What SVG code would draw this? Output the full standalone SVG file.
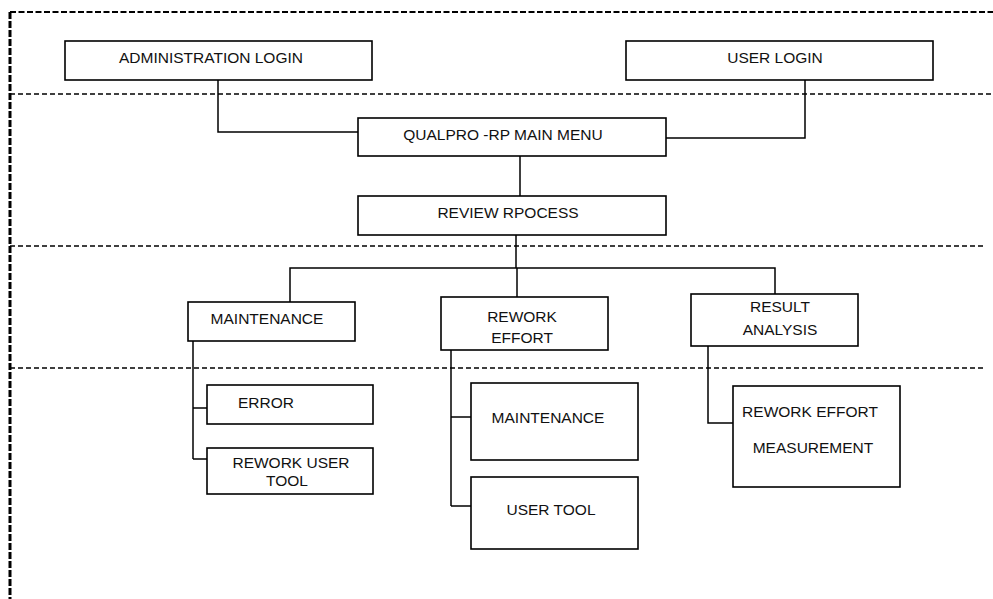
<svg xmlns="http://www.w3.org/2000/svg" width="993" height="599" viewBox="0 0 993 599">
<style>
.box{fill:#fff;stroke:#000;stroke-width:1.6}
.t{font-family:"Liberation Sans",Arial,sans-serif;font-size:15.5px;fill:#111;text-anchor:middle}
.c{fill:none;stroke:#000;stroke-width:1.5}
.d{fill:none;stroke:#000;stroke-width:1.3;stroke-dasharray:5 3}
</style>
<rect width="993" height="599" fill="#fff"/>
<g id="frame">
<line x1="10" y1="12" x2="993" y2="12" stroke="#000" stroke-width="1.8" stroke-dasharray="6 2.5"/>
<line x1="10" y1="12" x2="10" y2="599" stroke="#000" stroke-width="3" stroke-dasharray="7 2"/>
<line class="d" x1="10" y1="94" x2="993" y2="94"/>
<line class="d" x1="10" y1="246" x2="986" y2="246"/>
<line class="d" x1="10" y1="368" x2="986" y2="368"/>
</g>
<g id="connectors">
<polyline class="c" points="218,80 218,132 358,132"/>
<polyline class="c" points="805,80 805,138 666,138"/>
<line class="c" x1="520" y1="156" x2="520" y2="196"/>
<line class="c" x1="516" y1="235" x2="516" y2="268"/>
<polyline class="c" points="290,302 290,268 775,268 775,294"/>
<line class="c" x1="517" y1="268" x2="517" y2="297"/>
<line class="c" x1="193" y1="341" x2="193" y2="459"/>
<line class="c" x1="193" y1="408" x2="207" y2="408"/>
<line class="c" x1="193" y1="459" x2="207" y2="459"/>
<line class="c" x1="451" y1="350" x2="451" y2="506"/>
<line class="c" x1="451" y1="417" x2="471" y2="417"/>
<line class="c" x1="451" y1="506" x2="471" y2="506"/>
<polyline class="c" points="708,346 708,423 733,423"/>
</g>
<g id="admin-login"><rect class="box" x="65" y="41" width="307" height="39"/><text class="t" x="211" y="63">ADMINISTRATION LOGIN</text></g>
<g id="user-login"><rect class="box" x="626" y="41" width="307" height="39"/><text class="t" x="775" y="63">USER LOGIN</text></g>
<g id="main-menu"><rect class="box" x="358" y="118" width="308" height="38"/><text class="t" x="503" y="140">QUALPRO -RP MAIN MENU</text></g>
<g id="review-process"><rect class="box" x="358" y="196" width="308" height="39"/><text class="t" x="508" y="218">REVIEW RPOCESS</text></g>
<g id="maintenance"><rect class="box" x="188" y="302" width="167" height="39"/><text class="t" x="267" y="324">MAINTENANCE</text></g>
<g id="rework-effort"><rect class="box" x="441" y="297" width="167" height="53"/><text class="t" x="522" y="322">REWORK</text><text class="t" x="522" y="343">EFFORT</text></g>
<g id="result-analysis"><rect class="box" x="691" y="294" width="167" height="52"/><text class="t" x="780" y="312">RESULT</text><text class="t" x="780" y="335">ANALYSIS</text></g>
<g id="error"><rect class="box" x="207" y="385" width="166" height="39"/><text class="t" x="266" y="408">ERROR</text></g>
<g id="rework-user-tool"><rect class="box" x="207" y="448" width="166" height="46"/><text class="t" x="291" y="468">REWORK USER</text><text class="t" x="287" y="486">TOOL</text></g>
<g id="re-maintenance"><rect class="box" x="471" y="383" width="167" height="77"/><text class="t" x="548" y="423">MAINTENANCE</text></g>
<g id="user-tool"><rect class="box" x="471" y="477" width="167" height="72"/><text class="t" x="551" y="515">USER TOOL</text></g>
<g id="rework-effort-measurement"><rect class="box" x="733" y="386" width="167" height="101"/><text class="t" x="810" y="417">REWORK EFFORT</text><text class="t" x="813" y="453">MEASUREMENT</text></g>
</svg>
